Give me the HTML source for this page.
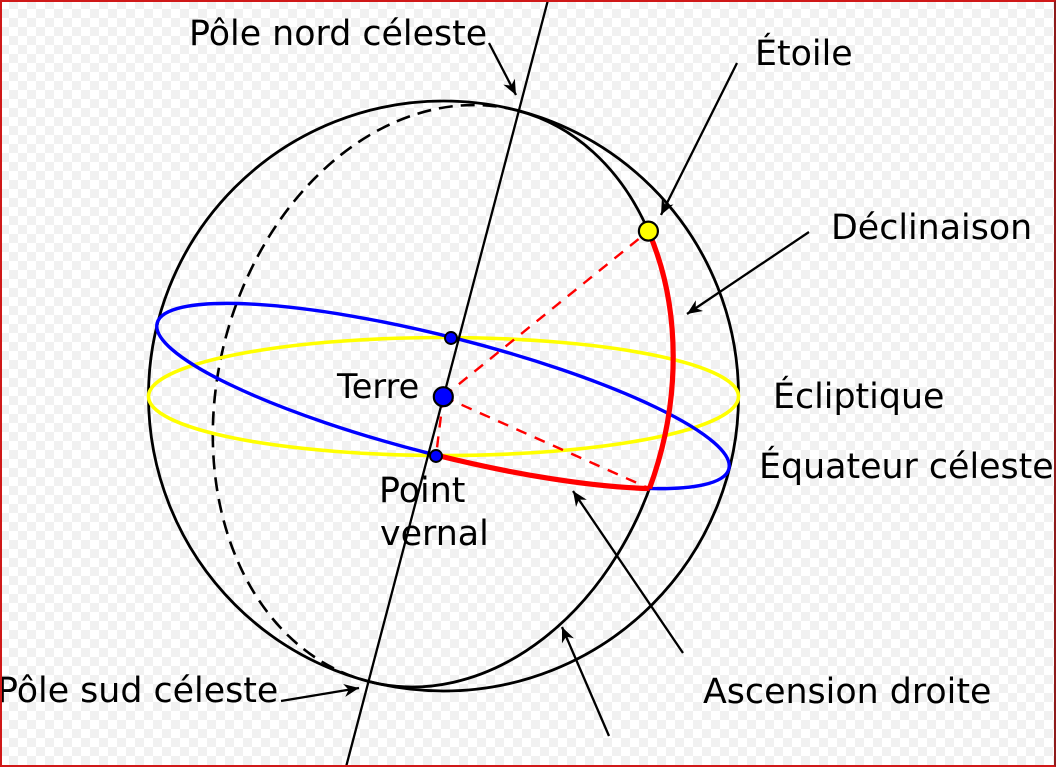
<!DOCTYPE html>
<html>
<head>
<meta charset="utf-8">
<style>
  html,body{margin:0;padding:0;}
  body{width:1056px;height:767px;overflow:hidden;position:relative;
    background-color:#ffffff;
    background-image:linear-gradient(45deg,#f1f1f1 25%,transparent 25%,transparent 75%,#f1f1f1 75%),
                     linear-gradient(45deg,#f1f1f1 25%,transparent 25%,transparent 75%,#f1f1f1 75%);
    background-size:18px 18px;background-position:0 0,9px 9px;}
  svg{position:absolute;left:0;top:0;}
  text{font-family:"DejaVu Sans","Liberation Sans",sans-serif;font-size:34.8px;fill:#000;}
  .frame{position:absolute;left:0;top:0;width:1052px;height:763px;border:2px solid #d01818;border-right-color:#8e1c1c;}
</style>
</head>
<body>
<svg width="1056" height="767" viewBox="0 0 1056 767" xmlns="http://www.w3.org/2000/svg">
  <defs>
    <marker id="ah" markerUnits="userSpaceOnUse" viewBox="-16 -8 18 16" refX="0" refY="0" markerWidth="18" markerHeight="16" orient="auto">
      <path d="M0,0 L-15,-6.5 L-10.5,0 L-15,6.5 Z" fill="#000"/>
    </marker>
  </defs>

  <!-- outline sphere -->
  <circle cx="443.5" cy="396" r="295" fill="none" stroke="#000" stroke-width="2.8"/>

  <!-- meridian great circle -->
  <g transform="translate(443,396) rotate(14.76)">
    <path d="M 0 -295 A 225 295 0 0 0 0 295" fill="none" stroke="#000" stroke-width="2.6" stroke-dasharray="14 8"/>
    <path d="M 0 -295 A 225 295 0 0 1 0 295" fill="none" stroke="#000" stroke-width="2.8"/>
  </g>

  <!-- ecliptic -->
  <ellipse cx="443.5" cy="396.5" rx="295" ry="59" fill="none" stroke="#ffff00" stroke-width="3.6"/>

  <!-- celestial equator -->
  <g transform="translate(443,396) rotate(14.3)">
    <ellipse cx="0" cy="0" rx="295" ry="59" fill="none" stroke="#0000ff" stroke-width="3.4"/>
  </g>

  <!-- red dashed radii -->
  <g stroke="#ff0000" stroke-width="2.4" stroke-dasharray="11 9" fill="none">
    <line x1="443.3" y1="396.7" x2="648.4" y2="231.1"/>
    <line x1="443.3" y1="396.7" x2="649.5" y2="488.5"/>
    <line x1="443.3" y1="396.7" x2="436" y2="456"/>
  </g>

  <!-- right ascension arc (on equator) -->
  <g transform="translate(443,396) rotate(14.3)">
    <path d="M 8.03 58.98 A 295 59 0 0 0 222.98 38.63" fill="none" stroke="#ff0000" stroke-width="5.2"/>
  </g>
  <!-- declination arc (on meridian) -->
  <g transform="translate(443,396) rotate(14.76)">
    <path d="M 156.6 -211.8 A 225 295 0 0 1 223.24 36.87" fill="none" stroke="#ff0000" stroke-width="5.2"/>
  </g>

  <!-- polar axis -->
  <line x1="548" y1="0" x2="346" y2="767" stroke="#000" stroke-width="2.3"/>

  <!-- dots -->
  <circle cx="451" cy="338" r="6" fill="#0000ff" stroke="#000" stroke-width="1.9"/>
  <circle cx="436" cy="456" r="6" fill="#0000ff" stroke="#000" stroke-width="1.9"/>
  <circle cx="443.3" cy="396.7" r="9.5" fill="#0000ff" stroke="#000" stroke-width="2.2"/>
  <circle cx="648.4" cy="231.1" r="9.5" fill="#ffff00" stroke="#000" stroke-width="2.2"/>

  <!-- arrows -->
  <g stroke="#000" stroke-width="2.3" fill="none" marker-end="url(#ah)">
    <line x1="489" y1="43" x2="516" y2="95"/>
    <line x1="737" y1="63" x2="661" y2="215"/>
    <line x1="809" y1="232" x2="687" y2="314"/>
    <line x1="683" y1="653" x2="573" y2="491"/>
    <line x1="609" y1="736" x2="562" y2="627"/>
    <line x1="281" y1="701" x2="359" y2="688"/>
  </g>

  <!-- labels -->
  <text x="189" y="45">Pôle nord céleste</text>
  <text x="755" y="65">Étoile</text>
  <text x="831" y="239">Déclinaison</text>
  <text x="773" y="408">Écliptique</text>
  <text x="759" y="478">Équateur céleste</text>
  <text x="337" y="398" style="font-size:33.5px">Terre</text>
  <text x="379" y="502">Point</text>
  <text x="380" y="545">vernal</text>
  <text x="-3" y="702">Pôle sud céleste</text>
  <text x="703" y="703">Ascension droite</text>
</svg>
<div class="frame"></div>
</body>
</html>
